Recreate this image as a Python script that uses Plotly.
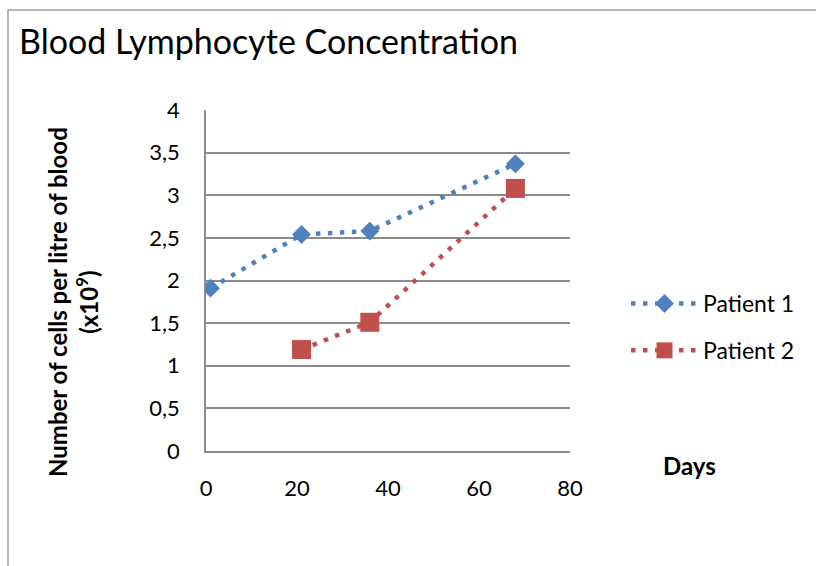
import plotly.graph_objects as go

# Lymphocyte counts (x10^9 cells per litre) by day
days_p1 = [1, 21, 36, 68]
cells_p1 = [1.91, 2.54, 2.58, 3.37]
days_p2 = [21, 36, 68]
cells_p2 = [1.19, 1.51, 3.08]

x_ticks = [0, 20, 40, 60, 80]
y_ticks = [0, 0.5, 1, 1.5, 2, 2.5, 3, 3.5, 4]
y_tick_text = [f"{v:g}".replace(".", ",") for v in y_ticks]

BLUE = "#4F81BD"
RED = "#C0504D"
GRID = "#8c8c8c"
FONT = "Lato"

W, H = 816, 566
L, R, T, B = 206, 246, 110, 115
pw, ph = W - L - R, H - T - B


def px(x):
    return (x - L) / pw


def py(y):
    return (H - B - y) / ph


fig = go.Figure()
fig.add_trace(go.Scatter(
    x=days_p1, y=cells_p1, name="Patient 1", mode="lines+markers",
    line=dict(color=BLUE, width=4.5, dash="4.5px,7.5px"),
    marker=dict(symbol="diamond", size=14.5, color=BLUE),
    legendgroup="p1",
))
fig.add_trace(go.Scatter(
    x=days_p2, y=cells_p2, name="Patient 2", mode="lines+markers",
    line=dict(color=RED, width=4.5, dash="4.5px,7.5px"),
    marker=dict(symbol="square", size=19, color=RED),
    legendgroup="p2",
))

fig.update_layout(
    width=W, height=H,
    margin=dict(l=L, r=R, t=T, b=B),
    paper_bgcolor="white", plot_bgcolor="white",
    font=dict(family=FONT, color="black", size=22),
    showlegend=True,
    legend=dict(x=px(626), y=py(282), xanchor="left", yanchor="top",
                font=dict(size=23, family=FONT), tracegroupgap=14,
                itemwidth=67, bgcolor="rgba(0,0,0,0)"),
    xaxis=dict(range=[0, 80], tickvals=x_ticks, showgrid=False,
               showline=True, linecolor=GRID, linewidth=1.5, zeroline=False,
               ticks="", ticklabelstandoff=17, tickfont=dict(size=22)),
    yaxis=dict(range=[0, 4], tickvals=y_ticks, ticktext=y_tick_text,
               showgrid=True, gridcolor=GRID, gridwidth=1.5,
               showline=True, linecolor=GRID, linewidth=1.5, zeroline=False,
               ticks="", ticklabelstandoff=20, tickfont=dict(size=22)),
    shapes=[
        # outer chart frame
        dict(type="rect", xref="paper", yref="paper",
             x0=px(8), x1=px(830), y0=py(580), y1=py(10),
             line=dict(color="#a0a0a0", width=1.5), layer="below"),
    ],
    annotations=[
        dict(text="Blood Lymphocyte Concentration", xref="paper", yref="paper",
             x=px(17), y=py(41), xanchor="left", yanchor="middle",
             showarrow=False, font=dict(size=34, family=FONT)),
        dict(text="<b>Number of cells per litre of blood</b><br><b>(x10<sup>9</sup>)</b>",
             xref="paper", yref="paper", x=px(73), y=py(302),
             xanchor="center", yanchor="middle", textangle=-90,
             showarrow=False, font=dict(size=24, family=FONT)),
        dict(text="<b>Days</b>", xref="paper", yref="paper",
             x=px(689), y=py(465), xanchor="center", yanchor="middle",
             showarrow=False, font=dict(size=24, family=FONT)),
    ],
)

fig.write_html("out.html")
